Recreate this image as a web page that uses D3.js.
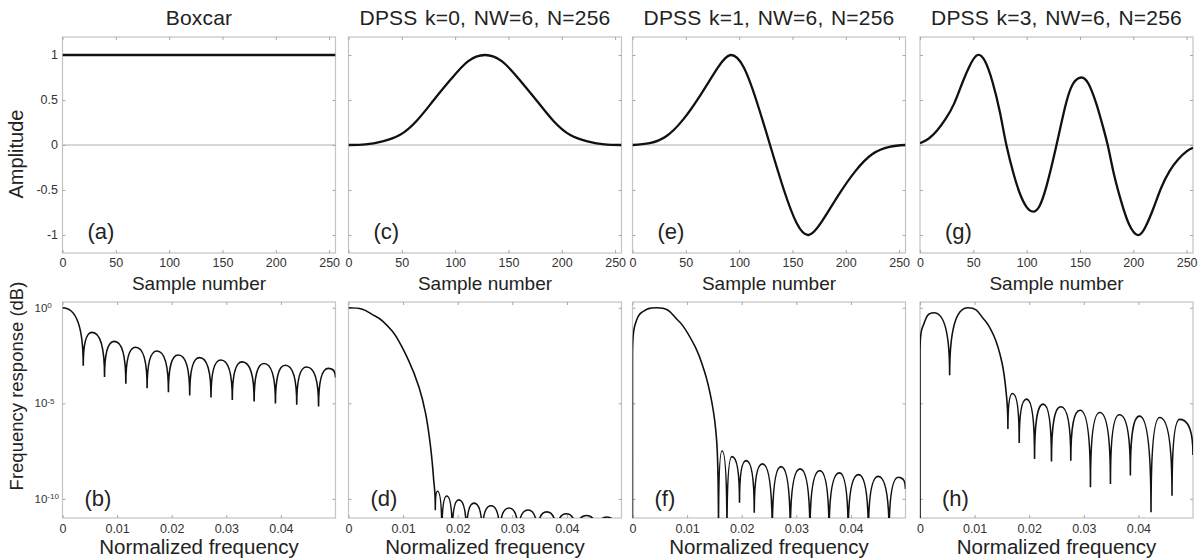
<!DOCTYPE html>
<html>
<head>
<meta charset="utf-8">
<script src="https://cdn.jsdelivr.net/npm/d3@7"></script>
<style>
  body { margin: 0; background: #fff; }
  svg { display: block; font-family: "Liberation Sans", Arial, sans-serif; }
</style>
</head>
<body>
<div id="chart"></div>
<script>
// ---- values ----
const titles = ["Boxcar", "DPSS k=0, NW=6, N=256", "DPSS k=1, NW=6, N=256", "DPSS k=3, NW=6, N=256"];
const topLetters = ["(a)", "(c)", "(e)", "(g)"];
const bottomLetters = ["(b)", "(d)", "(f)", "(h)"];

const sampleTicks = [0, 50, 100, 150, 200, 250];
const amplitudeTicks = [1, 0.5, 0, -0.5, -1];
const freqTicks = [0, 0.01, 0.02, 0.03, 0.04];
const responseExponents = [0, -5, -10];

// time domain: [sample, amplitude]
const boxcar = [[0, 1], [256, 1]];
const dpss0 = [[0, 0], [16, 0.006], [32, 0.04], [48, 0.11], [64, 0.27], [80, 0.5], [96, 0.73], [112, 0.93], [128, 1],
  [144, 0.93], [160, 0.73], [176, 0.5], [192, 0.27], [208, 0.11], [224, 0.04], [240, 0.006], [256, 0]];
const dpss1 = [[0, 0], [16, 0.02], [32, 0.1], [48, 0.29], [64, 0.56], [80, 0.86], [92, 1], [104, 0.87], [116, 0.5],
  [129, 0], [142, -0.5], [154, -0.87], [165, -1], [177, -0.86], [193, -0.56], [209, -0.29], [225, -0.1], [241, -0.02], [256, 0]];
const dpss3 = [[0, 0.02], [8, 0.07], [16, 0.16], [24, 0.29], [32, 0.46], [40, 0.7], [47, 0.89], [54, 1], [61, 0.93],
  [68, 0.7], [75, 0.36], [81, 0], [88, -0.33], [94, -0.55], [100, -0.69], [106, -0.74], [112, -0.68], [119, -0.44],
  [128, 0], [136, 0.42], [143, 0.67], [151, 0.75], [158, 0.68], [165, 0.47], [170, 0.27], [176, 0], [182, -0.33],
  [189, -0.64], [196, -0.88], [204, -1], [211, -0.92], [219, -0.7], [226, -0.48], [234, -0.29], [242, -0.16],
  [250, -0.07], [256, -0.03]];

// frequency response: [normalized frequency, log10 magnitude] (nulls and lobe tops)
const respBoxcar = [[0, 0], [0.0038, -3.04], [0.0054, -1.29], [0.0077, -3.62], [0.0095, -1.76], [0.0116, -3.97],
  [0.0134, -2.07], [0.0155, -4.21], [0.0173, -2.26], [0.0194, -4.42], [0.0212, -2.47], [0.0233, -4.59], [0.0251, -2.61],
  [0.0272, -4.7], [0.029, -2.73], [0.0311, -4.82], [0.0329, -2.83], [0.0351, -4.9], [0.0369, -2.92], [0.039, -5.01],
  [0.0408, -3.01], [0.0429, -5.08], [0.0447, -3.1], [0.0469, -5.17], [0.0487, -3.17], [0.05, -3.65]];
const respK0 = [[0, 0], [0.00495, -0.44], [0.008, -1.22], [0.011, -2.75], [0.0129, -4.15], [0.0141, -5.5],
  [0.015, -7.2], [0.0156, -9.0], [0.0159, -10.6], [0.0163, -9.6], [0.0171, -12], [0.018, -9.85], [0.019, -12],
  [0.0202, -10.05], [0.0216, -12], [0.023, -10.22], [0.0245, -12], [0.0261, -10.36], [0.0277, -12], [0.0294, -10.48],
  [0.0311, -12], [0.0329, -10.58], [0.0346, -12], [0.0363, -10.68], [0.0381, -12], [0.0399, -10.78], [0.0417, -12],
  [0.0436, -10.87], [0.0455, -12], [0.0473, -10.95], [0.0492, -12], [0.05, -11.3]];
const respK1 = [[0, -12], [0, -2.6], [0.0004, -0.95], [0.0016, -0.26], [0.0044, 0], [0.0084, -0.68], [0.0114, -2.0],
  [0.0132, -3.35], [0.0145, -4.9], [0.0154, -6.9], [0.01575, -12], [0.0164, -7.48], [0.0173, -12], [0.0182, -7.79],
  [0.0196, -10.2], [0.0208, -8.0], [0.0223, -10.73], [0.0238, -8.17], [0.0256, -12], [0.0272, -8.31], [0.0289, -12],
  [0.0307, -8.43], [0.0325, -12], [0.0343, -8.52], [0.036, -12], [0.0379, -8.64], [0.0395, -12], [0.0414, -8.73],
  [0.0432, -12], [0.045, -8.82], [0.047, -12], [0.0487, -8.87], [0.05, -9.48]];
const respK3 = [[0, -12], [0, -2.43], [0.00043, -1.04], [0.00256, -0.26], [0.00543, -3.53], [0.0088, 0], [0.0117, -0.6],
  [0.0135, -1.45], [0.015, -2.85], [0.0158, -4.5], [0.0161, -6.35], [0.01695, -4.49], [0.01817, -7.08], [0.01951, -4.78],
  [0.02098, -7.91], [0.02256, -5.04], [0.02408, -8.05], [0.02579, -5.18], [0.02762, -8.0], [0.02933, -5.36],
  [0.03122, -9.39], [0.03292, -5.48], [0.03488, -9.22], [0.03652, -5.6], [0.03853, -8.78], [0.04018, -5.67],
  [0.04231, -10.7], [0.0439, -5.74], [0.04616, -9.83], [0.04756, -5.84], [0.05, -7.7]];

const timeSeries = [boxcar, dpss0, dpss1, dpss3];
const freqSeries = [respBoxcar, respK0, respK1, respK3];

// ---- layout ----
const width = 1198, height = 559;
const colLeft = [62.5, 348.5, 632.5, 920];
const rowTop = [37, 302];
const panelW = 273, panelH = 216;
const frameColor = "#c4c4c4";
const textColor = "#222";

const svg = d3.select("#chart").append("svg")
    .attr("width", width)
    .attr("height", height);

const xSample = d3.scaleLinear().domain([0, 256]).range([0, panelW]);
const yAmp = d3.scaleLinear().domain([-1.2, 1.2]).range([panelH, 0]);
const xFreq = d3.scaleLinear().domain([0, 0.05]).range([0, panelW]);
const yResp = d3.scaleLog().domain([1e-11, 2]).range([panelH, 0]);

// Lobe curve: a top leaves level, a null leaves vertical, other points follow the local slope
const K = 2 / 3;
const curveLobes = context => {
    let pts = [];
    return {
        areaStart() {}, areaEnd() {},
        lineStart() { pts = []; },
        point(x, y) { pts.push([+x, +y]); },
        lineEnd() {
            if (!pts.length) return;
            const mode = pts.map((p, i) => {
                const a = pts[i - 1], b = pts[i + 1];
                if (!a) return b && b[1] > p[1] ? "h" : "v";
                if (!b) return a[1] > p[1] ? "h" : "v";
                if (p[1] < a[1] && p[1] < b[1]) return "h";
                if (p[1] > a[1] && p[1] > b[1]) return "v";
                if (p[0] === a[0] || p[0] === b[0]) return "v";
                const s0 = (p[1] - a[1]) / (p[0] - a[0]);
                const s1 = (b[1] - p[1]) / (b[0] - p[0]);
                return s0 * s1 <= 0 ? 0 : 2 * s0 * s1 / (s0 + s1);
            });
            const handle = ([x, y], m, dx, dy, s) =>
                m === "h" ? [x + s * dx * K, y] :
                m === "v" ? [x, y + s * dy * K] :
                [x + s * dx / 3, y + s * m * dx / 3];
            context.moveTo(pts[0][0], pts[0][1]);
            for (let i = 0; i < pts.length - 1; i++) {
                const [x0, y0] = pts[i], [x1, y1] = pts[i + 1];
                const dx = x1 - x0, dy = y1 - y0;
                if (dx === 0) { context.lineTo(x1, y1); continue; }
                const c1 = handle(pts[i], mode[i], dx, dy, 1);
                const c2 = handle(pts[i + 1], mode[i + 1], dx, dy, -1);
                context.bezierCurveTo(c1[0], c1[1], c2[0], c2[1], x1, y1);
            }
        }
    };
};

const styleAxis = g => {
    g.select(".domain").remove();
    g.selectAll(".tick line").attr("stroke", "#a8a8a8");
    g.selectAll(".tick text").attr("fill", "#333").style("font-size", "12.5px");
};

const drawFrame = (panel, x, y, xTicks, yTicks, xFormat, pad) => {
    panel.append("rect")
        .attr("width", panelW).attr("height", panelH)
        .attr("fill", "none").attr("stroke", frameColor).attr("stroke-width", 1.2);
    panel.append("g").attr("transform", `translate(0,${panelH})`)
        .call(d3.axisBottom(x).tickValues(xTicks).tickSize(-3).tickPadding(pad).tickFormat(xFormat))
        .call(styleAxis);
    panel.append("g")
        .call(d3.axisTop(x).tickValues(xTicks).tickSize(-3).tickFormat(""))
        .call(styleAxis);
    panel.append("g")
        .call(d3.axisLeft(y).tickValues(yTicks).tickSize(-3).tickFormat(""))
        .call(styleAxis);
    panel.append("g").attr("transform", `translate(${panelW},0)`)
        .call(d3.axisRight(y).tickValues(yTicks).tickSize(-3).tickFormat(""))
        .call(styleAxis);
};

const addClip = (id) => {
    svg.append("clipPath").attr("id", id)
        .append("rect").attr("width", panelW).attr("height", panelH);
    return `url(#${id})`;
};

const timeLine = d3.line()
    .x(d => xSample(d[0]))
    .y(d => yAmp(d[1]))
    .curve(d3.curveNatural);

const freqLine = d3.line()
    .x(d => xFreq(d[0]))
    .y(d => yResp(10 ** d[1]))
    .curve(curveLobes);

const respTicks = responseExponents.map(e => 10 ** e);

timeSeries.forEach((series, i) => {
    // top row: tapers
    const top = svg.append("g").attr("transform", `translate(${colLeft[i]},${rowTop[0]})`);
    top.append("line")
        .attr("x1", 0).attr("x2", panelW)
        .attr("y1", yAmp(0)).attr("y2", yAmp(0))
        .attr("stroke", "#c8c8c8").attr("stroke-width", 1.5);
    drawFrame(top, xSample, yAmp, sampleTicks, amplitudeTicks, d3.format("d"), 5);
    top.append("path")
        .datum(series)
        .attr("clip-path", addClip(`clip-top-${i}`))
        .attr("d", timeLine)
        .attr("fill", "none")
        .attr("stroke", "#111")
        .attr("stroke-width", 2.3);

    top.append("text")
        .attr("x", panelW / 2).attr("y", -12)
        .attr("text-anchor", "middle")
        .attr("fill", textColor)
        .style("font-size", "21px")
        .style("letter-spacing", "0.2px")
        .style("word-spacing", "1.5px")
        .text(titles[i]);
    top.append("text")
        .attr("x", panelW / 2).attr("y", panelH + 37)
        .attr("text-anchor", "middle")
        .attr("fill", textColor)
        .style("font-size", "19px")
        .text("Sample number");
    top.append("text")
        .attr("x", 25).attr("y", panelH - 14)
        .attr("fill", textColor)
        .style("font-size", "22px")
        .text(topLetters[i]);

    if (i === 0) {
        top.selectAll(".amp-label")
            .data(amplitudeTicks)
            .join("text")
                .attr("class", "amp-label")
                .attr("x", -4.5)
                .attr("y", d => yAmp(d))
                .attr("dy", "0.35em")
                .attr("text-anchor", "end")
                .attr("fill", "#333")
                .style("font-size", "12.5px")
                .text(d => String(d));
    }

    // bottom row: frequency responses
    const bottom = svg.append("g").attr("transform", `translate(${colLeft[i]},${rowTop[1]})`);
    drawFrame(bottom, xFreq, yResp, freqTicks, respTicks, d => String(d), 6);
    bottom.append("path")
        .datum(freqSeries[i])
        .attr("clip-path", addClip(`clip-bottom-${i}`))
        .attr("d", freqLine)
        .attr("fill", "none")
        .attr("stroke", "#111")
        .attr("stroke-width", 1.6);

    bottom.append("text")
        .attr("x", panelW / 2).attr("y", panelH + 36)
        .attr("text-anchor", "middle")
        .attr("fill", textColor)
        .style("font-size", "20.5px")
        .text("Normalized frequency");
    bottom.append("text")
        .attr("x", 22).attr("y", panelH - 12)
        .attr("fill", textColor)
        .style("font-size", "22px")
        .text(bottomLetters[i]);

    if (i === 0) {
        const labels = bottom.selectAll(".resp-label")
            .data(responseExponents)
            .join("text")
                .attr("class", "resp-label")
                .attr("x", -28)
                .attr("y", d => yResp(10 ** d))
                .attr("dy", "0.35em")
                .attr("fill", "#333")
                .style("font-size", "11.5px");
        labels.append("tspan").text("10");
        labels.append("tspan")
            .attr("dy", "-0.45em")
            .style("font-size", "8px")
            .text(d => String(d));
    }
});

// y axis titles
svg.append("text")
    .attr("transform", `translate(23,${rowTop[0] + 117}) rotate(-90)`)
    .attr("text-anchor", "middle")
    .attr("fill", textColor)
    .style("font-size", "20px")
    .text("Amplitude");
svg.append("text")
    .attr("transform", `translate(23,${rowTop[1] + 84}) rotate(-90)`)
    .attr("text-anchor", "middle")
    .attr("fill", textColor)
    .style("font-size", "18.5px")
    .text("Frequency response (dB)");
</script>
</body>
</html>
